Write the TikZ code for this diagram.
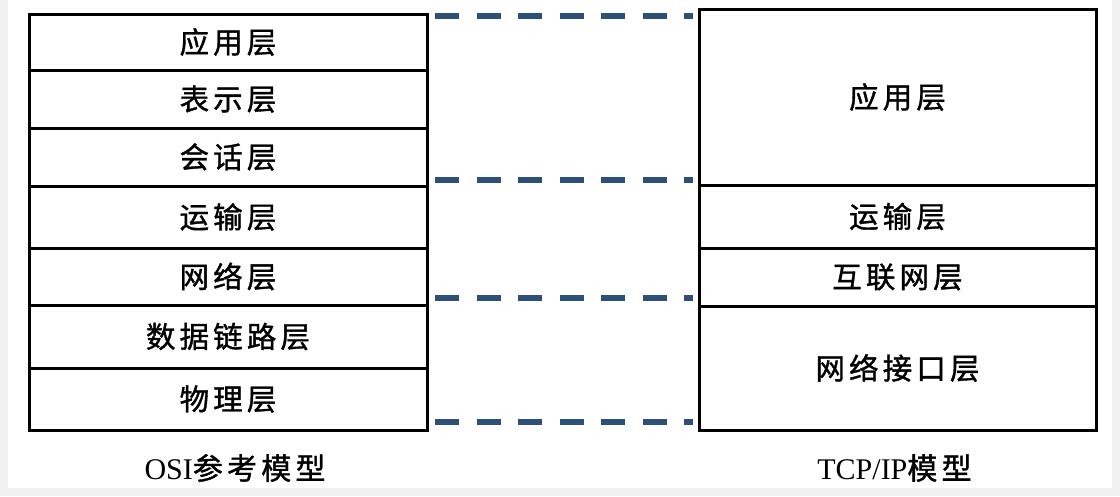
\documentclass[tikz,border=0pt]{standalone}
\usepackage{fontspec}
\setmainfont{Liberation Serif}
\newfontfamily\cjk[LetterSpace=14, FakeBold=1.2]{Noto Sans CJK SC}
\usetikzlibrary{positioning, calc}
\tikzset{>=stealth}
\definecolor{dashblue}{RGB}{44,80,120}
\definecolor{edgegray}{RGB}{240,240,240}
\tikzset{
  layer/.style={draw, line width=3pt, outer sep=0pt, inner sep=0pt,
    font=\cjk\fontsize{29.5pt}{33pt}\selectfont},
  osilayer/.style={layer, minimum width=398pt},
  tcplayer/.style={layer, minimum width=397pt},
  dashline/.style={dashblue, line width=6pt, dash pattern=on 24pt off 17.5pt},
  modelname/.style={font=\fontsize{30pt}{34pt}\selectfont, inner sep=0pt}
}

\begin{document}
\begin{tikzpicture}[x=1pt, y=-1pt]
    \useasboundingbox (0,0) rectangle (1120,496);
    \fill [edgegray] (0,0) rectangle (1120,496);
    \fill [white] (8,0) rectangle (1112,488);
    % OSI model
    \node [osilayer, minimum height=56pt, anchor=north west] (osi1) at (29,14) {应用层};
    \node [osilayer, minimum height=58pt, below=0pt of osi1] (osi2) {表示层};
    \node [osilayer, minimum height=58pt, below=0pt of osi2] (osi3) {会话层};
    \node [osilayer, minimum height=62pt, below=0pt of osi3] (osi4) {运输层};
    \node [osilayer, minimum height=57pt, below=0pt of osi4] (osi5) {网络层};
    \node [osilayer, minimum height=63pt, below=0pt of osi5] (osi6) {数据链路层};
    \node [osilayer, minimum height=62pt, below=0pt of osi6] (osi7) {物理层};
    % TCP/IP model
    \node [tcplayer, minimum height=176pt, anchor=north west] (tcp1) at (699,9) {应用层};
    \node [tcplayer, minimum height=63pt, below=0pt of tcp1] (tcp2) {运输层};
    \node [tcplayer, minimum height=58pt, below=0pt of tcp2] (tcp3) {互联网层};
    \node [tcplayer, minimum height=124pt, below=0pt of tcp3] (tcp4) {网络接口层};
    % correspondence
    \draw [dashline] ([xshift=8pt, yshift=-2pt]osi1.north east) -- ([xshift=-6pt, yshift=-2pt]osi1.north east -| tcp1.west);
    \draw [dashline] ([xshift=8pt, yshift=6pt]osi3.south east) -- ([xshift=-6pt, yshift=6pt]osi3.south east -| tcp1.west);
    \draw [dashline] ([xshift=8pt, yshift=7pt]osi5.south east) -- ([xshift=-6pt, yshift=7pt]osi5.south east -| tcp3.west);
    \draw [dashline] ([xshift=8pt, yshift=8pt]osi7.south east) -- ([xshift=-6pt, yshift=8pt]osi7.south east -| tcp4.west);
    % captions
    \node [modelname] (osiname) at ([xshift=7pt, yshift=-38pt]osi7.south) {OSI{\cjk 参考模型}};
    \node [modelname] (tcpname) at ([xshift=-3pt, yshift=-38pt]tcp4.south) {TCP/IP{\cjk 模型}};
\end{tikzpicture}
\end{document}
